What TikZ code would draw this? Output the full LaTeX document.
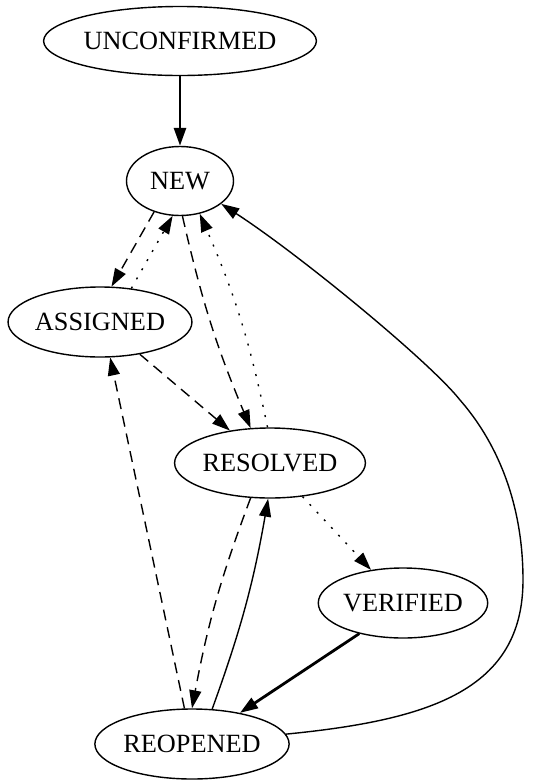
\documentclass[tikz,border=0pt]{standalone}
\usepackage{fontspec}
\setmainfont{Liberation Serif}
\usetikzlibrary{shapes.geometric,arrows.meta}
\tikzset{
  st/.style={draw, ellipse, line width=1.4pt, inner sep=0pt, font=\fontsize{26.3}{30}\selectfont},
  ed/.style={line width=1.4pt, -{Triangle[length=18pt,width=12pt]}},
  thk/.style={ed, line width=2.8pt},
  dsh/.style={ed, dash pattern=on 11pt off 7pt},
  dtt/.style={ed, dash pattern=on 2pt off 8.5pt},
}
\begin{document}
\begin{tikzpicture}[x=1pt,y=-1pt]
\useasboundingbox (0,0) rectangle (537,780);
\node[st, minimum width=239pt, minimum height=69pt] (unc) at (180,41) {UNCONFIRMED};
\node[st, minimum width=107pt, minimum height=69pt] (new) at (180,181) {NEW};
\node[st, minimum width=179pt, minimum height=70pt] (asg) at (100,322) {ASSIGNED};
\node[st, minimum width=183pt, minimum height=70pt] (res) at (270,463) {RESOLVED};
\node[st, minimum width=168pt, minimum height=70pt] (ver) at (403,603) {VERIFIED};
\node[st, minimum width=186pt, minimum height=70pt] (reo) at (192,744) {REOPENED};
\coordinate (c1) at (523,580);
\coordinate (c2) at (460,400);

\draw[thk] (unc) -- (new);
\draw[dsh] (new.-130.3) -- (asg.72.6);
\draw[dtt] (asg.47.6) -- (new.-102.9);
\draw[dsh] (new.-86.8) to[bend right=5] (res.119.7);
\draw[dtt] (res.94.9) to[bend right=6] (new.-59.7);
\draw[dsh] (asg.-39.5) -- (res.141.2);
\draw[dsh] (reo.102.9) -- (asg.-74.5);
\draw[dsh] (res.-119.7) to[bend right=5] (reo.90);
\draw[ed] (reo.60.8) to[bend right=5] (res.-93.3);
\draw[dtt] (res.-46.7) -- (ver.134.1);
\draw[thk] (ver.-145.4) -- (reo.33.7);
\draw[ed] (reo.6.2) .. controls (430,720) and (523,690) .. (c1)
  .. controls (523,500) and (495,440) .. (c2)
  .. controls (430,362) and (300,255) .. (new.-29.6);
\end{tikzpicture}
\end{document}
